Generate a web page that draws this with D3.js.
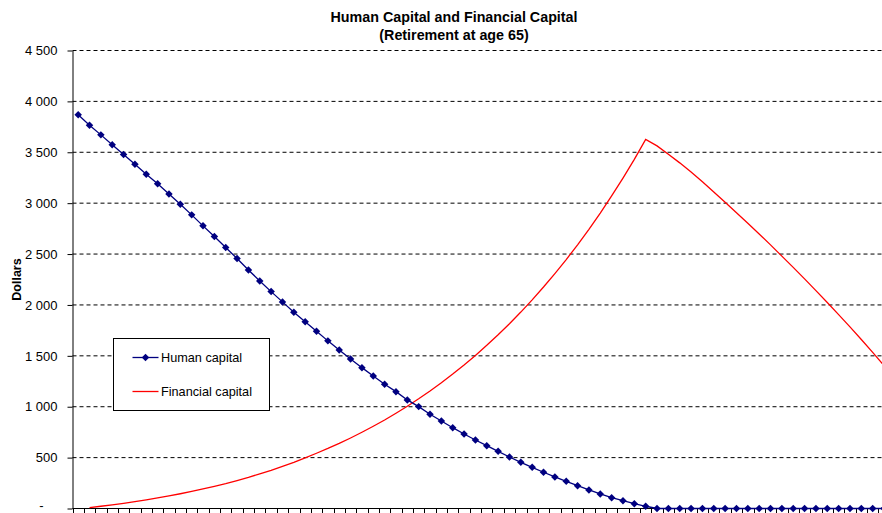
<!DOCTYPE html>
<html>
<head>
<meta charset="utf-8">
<script src="https://cdn.jsdelivr.net/npm/d3@7"></script>
<style>
  body { margin: 0; background: #fff; }
  svg { display: block; font-family: "Liberation Sans", Arial, sans-serif; }
</style>
</head>
<body>
<div id="chart"></div>
<script>
// values (one slot per year)
const humanCapital = [3868, 3765, 3671, 3573, 3478, 3383, 3285, 3190, 3090, 2990,
    2885, 2777, 2672, 2564, 2456, 2344, 2236, 2131, 2030, 1929,
    1836, 1742, 1647, 1558, 1470, 1384, 1302, 1221, 1148, 1067,
    1001, 926, 860, 794, 732, 673, 617, 562, 506, 454,
    405, 356, 310, 267, 224, 182, 143, 106, 77, 47,
    22, 0, 0, 0, 0, 0, 0, 0, 0, 0,
    0, 0, 0, 0, 0, 0, 0, 0, 0, 0,
    0, 0];

const financialCapital = [null, 8, 22, 36, 51, 68, 85, 104, 124, 145,
    168, 192, 218, 245, 275, 306, 340, 375, 414, 454,
    498, 543, 590, 640, 693, 749, 808, 870, 936, 1005,
    1078, 1155, 1236, 1321, 1410, 1504, 1603, 1707, 1816, 1930,
    2050, 2176, 2308, 2446, 2591, 2743, 2903, 3071, 3247, 3431,
    3627, 3563, 3480, 3396, 3306, 3210, 3110, 3008, 2906, 2803,
    2698, 2590, 2480, 2369, 2256, 2141, 2024, 1905, 1784, 1660,
    1534, 1405];

const yTickValues = [0, 500, 1000, 1500, 2000, 2500, 3000, 3500, 4000, 4500];
const yTickLabels = ["-", "500", "1 000", "1 500", "2 000", "2 500", "3 000", "3 500", "4 000", "4 500"];

const seriesNames = ["Human capital", "Financial capital"];
const seriesColors = ["#000080", "#ff0000"];

const width = 882, height = 513;
const plotLeft = 72.5, plotBottom = 508.5, plotTop = 50.5, step = 11.35;
const slots = d3.range(humanCapital.length);

const svg = d3.select("#chart").append("svg")
    .attr("width", width)
    .attr("height", height);

svg.append("rect").attr("width", width).attr("height", height).attr("fill", "#fff");

const x = d3.scaleBand()
    .domain(slots)
    .range([plotLeft, plotLeft + step * slots.length]);

const y = d3.scaleLinear()
    .domain([0, 4500])
    .range([plotBottom, plotTop]);

const cx = i => x(i) + x.bandwidth() / 2;

// dashed grid lines
svg.append("g")
    .selectAll("line")
    .data(yTickValues.filter(v => v > 0))
    .enter().append("line")
    .attr("x1", plotLeft)
    .attr("x2", width)
    .attr("y1", d => y(d))
    .attr("y2", d => y(d))
    .attr("stroke", "#000")
    .attr("stroke-width", 1)
    .attr("stroke-dasharray", "4,3");

// y axis
const yAxis = svg.append("g")
    .attr("transform", `translate(${plotLeft},0)`)
    .call(d3.axisLeft(y)
        .tickValues(yTickValues)
        .tickFormat((d, i) => yTickLabels[i])
        .tickSize(5)
        .tickSizeOuter(0));
yAxis.select(".domain").attr("stroke", "#000");
yAxis.selectAll(".tick line").attr("stroke", "#000");
yAxis.selectAll(".tick text")
    .attr("fill", "#000")
    .attr("x", -15)
    .style("font-size", "13px")
    .style("font-family", "Liberation Sans, Arial, sans-serif");
// zero label "-" sits at the very bottom edge
yAxis.selectAll(".tick text").filter(d => d === 0)
    .attr("x", -29)
    .attr("dy", "1px");

// x axis: ticks between categories, no labels (cut off below)
const xAxis = svg.append("g")
    .attr("transform", `translate(0,${plotBottom})`);
xAxis.append("line")
    .attr("x1", plotLeft).attr("x2", width)
    .attr("stroke", "#000");
xAxis.selectAll(".xt")
    .data(slots)
    .enter().append("line")
    .attr("class", "xt")
    .attr("x1", d => Math.round(x(d)) + 0.5)
    .attr("x2", d => Math.round(x(d)) + 0.5)
    .attr("y1", 0)
    .attr("y2", 5)
    .attr("stroke", "#000");

// axis title
svg.append("text")
    .attr("transform", `translate(21,${(plotTop + plotBottom) / 2}) rotate(-90)`)
    .attr("text-anchor", "middle")
    .style("font-size", "12.5px")
    .style("font-weight", "bold")
    .text("Dollars");

// chart title
const title = svg.append("text")
    .attr("text-anchor", "middle")
    .style("font-size", "14.3px")
    .style("font-weight", "bold");
title.append("tspan").attr("x", 454).attr("y", 22).text("Human Capital and Financial Capital");
title.append("tspan").attr("x", 454).attr("y", 40).text("(Retirement at age 65)");

const line = d3.line()
    .defined(d => d != null)
    .x((d, i) => cx(i))
    .y(d => y(d));

// financial capital
svg.append("path")
    .datum(financialCapital)
    .attr("fill", "none")
    .attr("stroke", seriesColors[1])
    .attr("stroke-width", 1.3)
    .attr("d", line);

// human capital
svg.append("path")
    .datum(humanCapital)
    .attr("fill", "none")
    .attr("stroke", seriesColors[0])
    .attr("stroke-width", 1.3)
    .attr("d", line);

const diamond = d3.symbol().type(d3.symbolSquare).size(28);

svg.append("g")
    .selectAll("path")
    .data(humanCapital)
    .enter().append("path")
    .attr("d", diamond)
    .attr("transform", (d, i) => `translate(${cx(i)},${y(d)}) rotate(45)`)
    .attr("fill", seriesColors[0]);

// legend
const legend = svg.append("g").attr("transform", "translate(113.5,338.5)");
legend.append("rect")
    .attr("width", 156)
    .attr("height", 72)
    .attr("fill", "#fff")
    .attr("stroke", "#000");

const entries = legend.selectAll(".entry")
    .data(seriesNames)
    .enter().append("g")
    .attr("class", "entry")
    .attr("transform", (d, i) => `translate(0,${19 + i * 34})`);

entries.append("line")
    .attr("x1", 19).attr("x2", 45)
    .attr("stroke", (d, i) => seriesColors[i])
    .attr("stroke-width", 1.3);

entries.filter((d, i) => i === 0).append("path")
    .attr("d", diamond)
    .attr("transform", "translate(32,0) rotate(45)")
    .attr("fill", seriesColors[0]);

entries.append("text")
    .attr("x", 47.5)
    .attr("dy", "0.35em")
    .style("font-size", "12.7px")
    .text(d => d);
</script>
</body>
</html>
